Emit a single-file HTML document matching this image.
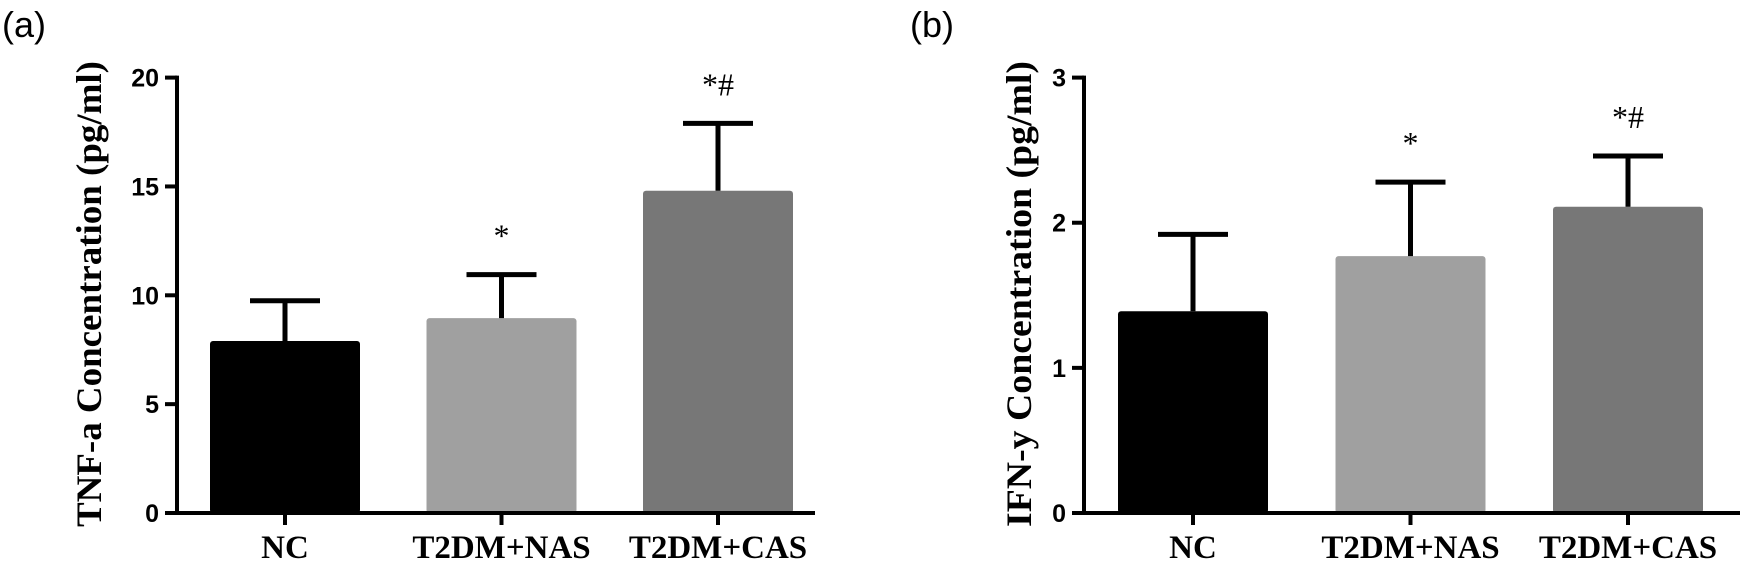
<!DOCTYPE html>
<html><head><meta charset="utf-8"><style>
html,body{margin:0;padding:0;background:#fff;}
svg{display:block;}
</style></head><body>
<svg id="fig" width="1745" height="566" xmlns="http://www.w3.org/2000/svg">
<text x="2" y="37" font-family="Liberation Sans, sans-serif" font-size="36">(a)</text>
<text x="910" y="37" font-family="Liberation Sans, sans-serif" font-size="36">(b)</text>
<g id="pa"></g>
<g id="pb"></g>
</svg>
<script>
const categories = ["NC", "T2DM+NAS", "T2DM+CAS"];
const tnfMeans = [7.9, 8.95, 14.8];
const tnfErrors = [1.85, 2.0, 3.1];
const tnfTicks = [0, 5, 10, 15, 20];
const tnfMarks = ["", "*", "*#"];
const ifnMeans = [1.39, 1.77, 2.11];
const ifnErrors = [0.53, 0.51, 0.35];
const ifnTicks = [0, 1, 2, 3];
const ifnMarks = ["", "*", "*#"];
const barColors = ["#000000", "#a0a0a0", "#777777"];

const NS = "http://www.w3.org/2000/svg";
function mk(parent, tag, attrs, text) {
  const e = document.createElementNS(NS, tag);
  for (const k in attrs) e.setAttribute(k, attrs[k]);
  if (text !== undefined) e.textContent = text;
  parent.appendChild(e);
  return e;
}
function drawPanel(g, cfg) {
  const y0 = 513, yTop = 77.6;
  const ys = v => y0 - (v / cfg.max) * (y0 - yTop);
  const xs = i => cfg.firstCenter + i * cfg.step;
  cfg.means.forEach((m, i) => {
    const cx = xs(i);
    const r = mk(g, "rect", {x: cx - 75, y: ys(m), width: 150, height: y0 - ys(m), fill: barColors[i], rx: 3});
    
    
    const top = ys(m + cfg.errs[i]);
    const eb = mk(g, "path", {d: `M${cx} ${ys(m)}V${top}M${cx - 35} ${top}H${cx + 35}`, stroke: "#000", "stroke-width": 5, fill: "none"});
    
    
    if (cfg.marks[i]) {
      const t = mk(g, "text", {x: cx, y: ys(m + cfg.errs[i]) - cfg.markGap, "text-anchor": "middle", "font-family": "Liberation Serif, serif", "font-size": 32}, cfg.marks[i]);
      
      
    }
    const tk = mk(g, "line", {x1: cx, x2: cx, y1: y0, y2: y0 + 12, stroke: "#000", "stroke-width": 4});
    
    
    const lb = mk(g, "text", {x: cx, y: 558, "text-anchor": "middle", "font-family": "Liberation Serif, serif", "font-weight": "bold", "font-size": 33}, categories[i]);
    
    
  });
  const ya = mk(g, "line", {x1: cfg.ax, x2: cfg.ax, y1: yTop - 2, y2: y0 + 2, stroke: "#000", "stroke-width": 4});
  
  
  const xa = mk(g, "line", {x1: cfg.ax - 2, x2: cfg.axEnd, y1: y0, y2: y0, stroke: "#000", "stroke-width": 4});
  
  
  cfg.ticks.forEach(t => {
    const l = mk(g, "line", {x1: cfg.ax - 12, x2: cfg.ax, y1: ys(t), y2: ys(t), stroke: "#000", "stroke-width": 4});
    
    
    const tx = mk(g, "text", {x: cfg.ax - 18, y: ys(t) + 9, "text-anchor": "end", "font-family": "Liberation Sans, sans-serif", "font-weight": "bold", "font-size": 25}, String(t));
    
    
  });
  const yl = mk(g, "text", {x: 0, y: 0, transform: `translate(${cfg.labelX},294) rotate(-90)`, "text-anchor": "middle", "font-family": "Liberation Serif, serif", "font-weight": "bold", "font-size": 36, textLength: 466, lengthAdjust: "spacingAndGlyphs"}, cfg.title);
  
  
}
drawPanel(document.getElementById('pa'), {means: tnfMeans, errs: tnfErrors, ticks: tnfTicks, marks: tnfMarks, max: 20, ax: 177, axEnd: 815, firstCenter: 285, step: 216.5, labelX: 101, title: "TNF-a Concentration (pg/ml)", markGap: 28});
drawPanel(document.getElementById('pb'), {means: ifnMeans, errs: ifnErrors, ticks: ifnTicks, marks: ifnMarks, max: 3, ax: 1084, axEnd: 1740, firstCenter: 1193, step: 217.5, labelX: 1031, title: "IFN-y Concentration (pg/ml)", markGap: 28});
</script>
</body></html>
